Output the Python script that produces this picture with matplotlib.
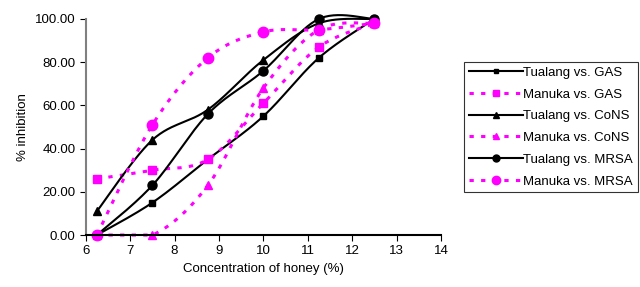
#!/usr/bin/env python3
import numpy as np
from matplotlib import pyplot as plt

conc = [6.25, 7.5, 8.75, 10, 11.25, 12.5]

tualang_gas = [0, 15, 35, 55, 82, 100]
manuka_gas = [26, 30, 35, 61, 87, 98]
tualang_cons = [11, 44, 58, 81, 98, 100]
manuka_cons = [0, 0, 23, 68, 95, 98]
tualang_mrsa = [0, 23, 56, 76, 100, 100]
manuka_mrsa = [0, 51, 82, 94, 95, 98]

labels = ['Tualang vs. GAS', 'Manuka vs. GAS', 'Tualang vs. CoNS',
          'Manuka vs. CoNS', 'Tualang vs. MRSA', 'Manuka vs. MRSA']


def smooth(x, y, sx=1.0, sy=1.0, n=30):
	# catmull-rom through the points, done in screen-ish units
	p = np.column_stack([np.array(x) * sx, np.array(y) * sy])
	p = np.vstack([p[0], p, p[-1]])
	out = []
	t = np.linspace(0, 1, n)
	for i in range(1, len(p) - 2):
		p0, p1, p2, p3 = p[i - 1], p[i], p[i + 1], p[i + 2]
		c1 = p1 + (p2 - p0) / 6
		c2 = p2 - (p3 - p1) / 6
		seg = ((1 - t)**3)[:, None] * p1 + (3 * (1 - t)**2 * t)[:, None] * c1 \
			+ (3 * (1 - t) * t**2)[:, None] * c2 + (t**3)[:, None] * p2
		out.append(seg)
	out = np.vstack(out)
	return out[:, 0] / sx, out[:, 1] / sy


def main():
	plt.rcParams['font.family'] = ['Liberation Sans', 'DejaVu Sans']
	fig = plt.figure(figsize=(6.4, 2.87), dpi=100)
	ax = fig.add_axes([0.134, 0.181, 0.555, 0.753])
	sx = 355 / 8
	sy = 216 / 100

	mag = '#ff00ff'
	dash = (0, (1.4, 2.4))
	series = [
		(tualang_gas, 'k', '-', 's', 4.5),
		(manuka_gas, mag, dash, 's', 6),
		(tualang_cons, 'k', '-', '^', 5.5),
		(manuka_cons, mag, dash, '^', 6),
		(tualang_mrsa, 'k', '-', 'o', 6.5),
		(manuka_mrsa, mag, dash, 'o', 7.5),
	]
	for (vals, col, ls, mk, ms), lab in zip(series, labels):
		lw = 1.5 if col == 'k' else 2.2
		xs, ys = smooth(conc, vals, sx, sy)
		ys = np.clip(ys, 0, None)
		ax.plot(xs, ys, color=col, linestyle=ls, lw=lw, clip_on=False)
		ax.plot(conc, vals, linestyle='none', marker=mk, color=col, ms=ms, clip_on=False)
		ax.plot([], [], color=col, linestyle=ls, lw=lw, marker=mk, ms=ms - 1.5, label=lab)

	ax.set_xlim(6, 14)
	ax.set_ylim(0, 100)
	ax.set_xticks(range(6, 15))
	ax.set_yticks(range(0, 101, 20))
	ax.set_yticklabels([f'{v:.2f}' for v in range(0, 101, 20)])
	ax.tick_params(labelsize=9.5, direction='out', length=4)
	ax.spines['top'].set_visible(False)
	ax.spines['right'].set_visible(False)
	ax.spines['left'].set_color('#808080')
	ax.spines['left'].set_linewidth(1.5)
	ax.spines['bottom'].set_linewidth(1.5)
	ax.set_xlabel('Concentration of honey (%)', fontsize=9.5)
	ax.set_ylabel('% inhibition', fontsize=9.5)

	leg = fig.legend(loc='upper left', bbox_to_anchor=(464 / 640, 1 - 62 / 287),
		fontsize=9.5, frameon=True, fancybox=False, edgecolor='k',
		handlelength=4.1, borderpad=0.35, labelspacing=0.72, handletextpad=0.05,
		borderaxespad=0)
	leg.get_frame().set_linewidth(0.8)

	plt.savefig('out.png', dpi=100)
	plt.close()


if __name__ == '__main__':
	main()
